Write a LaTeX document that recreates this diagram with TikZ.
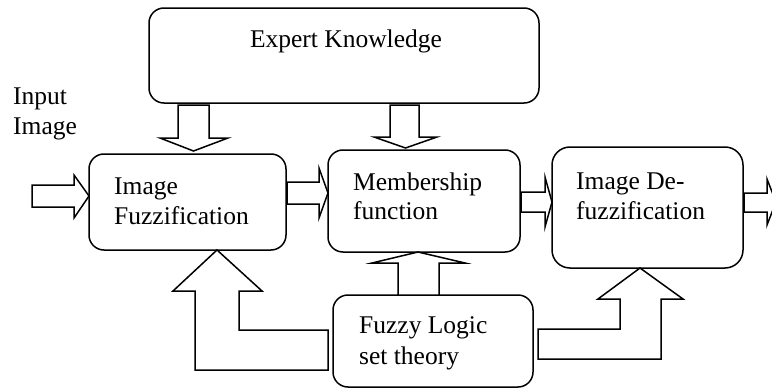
\documentclass[tikz,border=0pt]{standalone}
\usepackage{fontspec}
\setmainfont{Liberation Serif}
\begin{document}
\begin{tikzpicture}[x=1pt,y=-1pt,
  box/.style={draw, line width=1.5pt, rounded corners=15pt, inner sep=0pt},
  blk/.style={draw, line width=1.5pt, fill=white, line join=miter, miter limit=10},
  lbl/.style={font=\fontsize{25.5}{30}\selectfont, inner sep=0pt, anchor=base west}]
\useasboundingbox (0,0) rectangle (772,388);

% boxes
\node[box, minimum width=390pt, minimum height=95pt] (exp) at (344,55.5) {};
\node[box, minimum width=197pt, minimum height=96pt] (fuzz) at (187.5,202) {};
\node[box, minimum width=192pt, minimum height=102pt] (memb) at (424,201) {};
\node[box, rounded corners=18pt, minimum width=191pt, minimum height=121pt] (defz) at (647.5,207.5) {};
\node[box, minimum width=200pt, minimum height=92pt] (flog) at (433,341) {};

% texts
\node[lbl, anchor=base] (expt) at (346,47) {Expert Knowledge};
\node[lbl] (in1) at (13,104) {Input};
\node[lbl] (in2) at (13,134) {Image};
\node[lbl] (f1) at (114,194) {Image};
\node[lbl] (f2) at (114,224) {Fuzzification};
\node[lbl] (m1) at (353,190) {Membership};
\node[lbl] (m2) at (353,219) {function};
\node[lbl] (d1) at (576,189) {Image De-};
\node[lbl] (d2) at (576,219) {fuzzification};
\node[lbl] (l1) at (359,333) {Fuzzy Logic};
\node[lbl] (l2) at (359,364) {set theory};

% block arrows
% input -> fuzzification
\draw[blk] (32,185) -- (74,185) -- (74,175) -- (89,196) -- (74,218) -- (74,207) -- (32,207) -- cycle;
% fuzzification -> membership
\draw[blk] (287,182) -- (319,182) -- (319,168) -- (328,193) -- (319,218) -- (319,204) -- (287,204) -- cycle;
% membership -> defuzzification
\draw[blk] (521,192) -- (545,192) -- (545,177) -- (552,202) -- (545,227) -- (545,212) -- (521,212) -- cycle;
% output
\draw[blk] (744,193) -- (767,193) -- (767,179) -- (776,202) -- (767,225) -- (767,212) -- (744,212) -- cycle;
% expert -> fuzzification
\draw[blk] (178,105) -- (209,105) -- (209,138) -- (228,138) -- (193.5,151) -- (160,138) -- (178,138) -- cycle;
% expert -> membership
\draw[blk] (390,105) -- (419,105) -- (419,137) -- (437,137) -- (405.5,148) -- (374,137) -- (390,137) -- cycle;
% fuzzy logic -> membership
\draw[blk] (398,295) -- (398,263) -- (372,263) -- (418,252) -- (465,263) -- (439,263) -- (439,295) -- cycle;
% fuzzy logic -> fuzzification (L-shaped)
\draw[blk] (217,250) -- (262,291) -- (239,291) -- (239,330) -- (328,330) -- (328,370) -- (195,370) -- (195,291) -- (173,291) -- cycle;
% fuzzy logic -> defuzzification (L-shaped)
\draw[blk] (538,329) -- (620,329) -- (620,299) -- (598,299) -- (640,268) -- (683,299) -- (661,299) -- (661,359) -- (538,359) -- cycle;
\end{tikzpicture}
\end{document}
